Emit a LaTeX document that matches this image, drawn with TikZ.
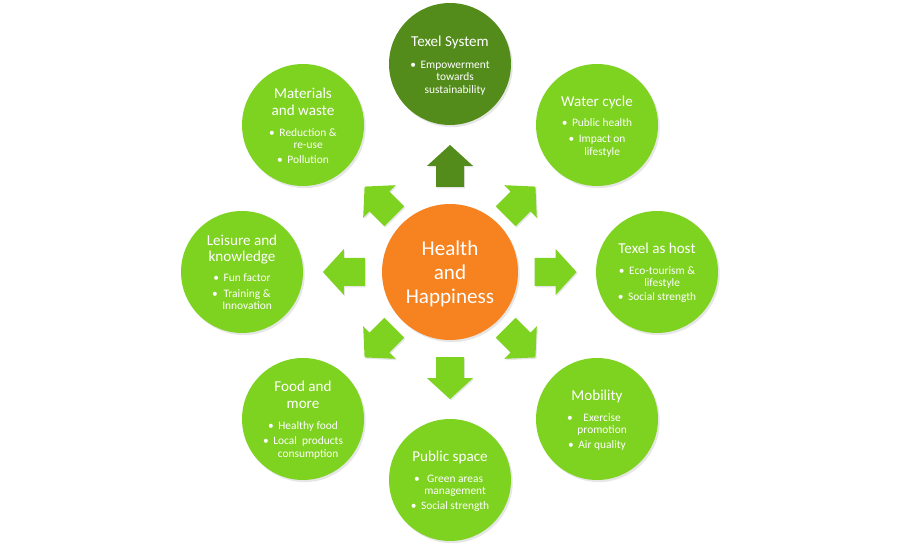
\documentclass[tikz,border=0pt]{standalone}
\usepackage{fontspec}
\setmainfont{Carlito}
\usetikzlibrary{shadows,calc}
\definecolor{lgreen}{RGB}{126,210,32}
\definecolor{dgreen}{RGB}{84,140,28}
\definecolor{hhorange}{RGB}{246,130,32}
\newcommand\ctab[1]{\begin{tabular}{@{}c@{}}#1\end{tabular}}
\newcommand\bitem[1]{\begin{tabular}{@{}l@{\hspace{2.6pt}}c@{}}\textbullet&#1\end{tabular}}
\tikzset{
  barrow/.pic={\fill[#1,drop shadow={opacity=0.2,shadow xshift=0.6pt,shadow yshift=-0.8pt}]
    (-21,-14) -- (0,-14) -- (0,-23) -- (21,0) -- (0,23) -- (0,14) -- (-21,14) -- cycle;}
}
\begin{document}
\begin{tikzpicture}[x=0.02cm,y=-0.02cm,
  bub/.style={circle,minimum size=2.44cm,inner sep=0pt,fill=lgreen,
    drop shadow={opacity=0.2,shadow xshift=1pt,shadow yshift=-1.2pt}},
  ttl/.style={text=white,inner sep=0pt,yshift=-0.035cm,font=\fontsize{8.6}{9.6}\selectfont},
  itm/.style={text=white,inner sep=0pt,yshift=-0.035cm,font=\fontsize{6.5}{7.1}\selectfont},
  ctr/.style={text=white,inner sep=0pt,yshift=-0.06cm,font=\fontsize{12}{13.6}\selectfont}]
\useasboundingbox (0,0) rectangle (900,560);
% circles
\node[bub,fill=hhorange,minimum size=2.72cm] (hh) at (450,272) {};
\node[bub,fill=dgreen] (ts) at (450,64) {};
\node[bub] (wc) at (597,125) {};
\node[bub] (th) at (657,272) {};
\node[bub] (mo) at (597,419) {};
\node[bub] (ps) at (450,480) {};
\node[bub] (fm) at (303,419) {};
\node[bub] (lk) at (242,272) {};
\node[bub] (mw) at (303,125) {};
% arrows
\pic[rotate=90]   (aTS) at ($(hh)!0.51!(ts)$) {barrow=dgreen};
\pic[rotate=45]   (aWC) at ($(hh)!0.48!(wc)$) {barrow=lgreen};
\pic[rotate=0]    (aTH) at ($(hh)!0.51!(th)$) {barrow=lgreen};
\pic[rotate=-45]  (aMO) at ($(hh)!0.48!(mo)$) {barrow=lgreen};
\pic[rotate=-90]  (aPS) at ($(hh)!0.51!(ps)$) {barrow=lgreen};
\pic[rotate=-135] (aFM) at ($(hh)!0.48!(fm)$) {barrow=lgreen};
\pic[rotate=180]  (aLK) at ($(hh)!0.51!(lk)$) {barrow=lgreen};
\pic[rotate=135]  (aMW) at ($(hh)!0.48!(mw)$) {barrow=lgreen};
% centre text
\node[ctr] (hht) at (450,272) {\ctab{Health\\and\\Happiness}};
% Texel System
\node[ttl] (tst) at (450,41.7) {\ctab{Texel System}};
\node[itm] (tsa) at (450,76.3) {\bitem{Empowerment\\&towards\\&sustainability}};
% Water cycle
\node[ttl] (wct) at (597,101.7) {\ctab{Water cycle}};
\node[itm] (wca) at (597,122.7) {\bitem{Public health}};
\node[itm] (wcb) at (597,144.8) {\bitem{Impact on\\&lifestyle}};
% Texel as host
\node[ttl] (tht) at (657,248.3) {\ctab{Texel as host}};
\node[itm] (tha) at (657,276.2) {\bitem{Eco-tourism \&\\&lifestyle}};
\node[itm] (thb) at (657,296.7) {\bitem{Social strength}};
% Mobility
\node[ttl] (mot) at (597,395.7) {\ctab{Mobility}};
\node[itm] (moa) at (597,423.2) {\bitem{Exercise\\&promotion}};
\node[itm] (mob) at (597,444.3) {\bitem{Air quality}};
% Public space
\node[ttl] (pst) at (450,456.7) {\ctab{Public space}};
\node[itm] (psa) at (450,484.2) {\bitem{Green areas\\&management}};
\node[itm] (psb) at (450,505) {\bitem{Social strength}};
% Food and more
\node[ttl] (fmt) at (303,394.9) {\ctab{Food and\\more}};
\node[itm] (fma) at (303,425) {\bitem{Healthy food}};
\node[itm] (fmb) at (303,446.7) {\bitem{Local\hspace{0.45em}products\\&consumption}};
% Leisure and knowledge
\node[ttl] (lkt) at (242,248.4) {\ctab{Leisure and\\knowledge}};
\node[itm] (lka) at (242,277.7) {\bitem{Fun factor}};
\node[itm] (lkb) at (242,299.5) {\bitem{Training \&\\&Innovation}};
% Materials and waste
\node[ttl] (mwt) at (303,101.7) {\ctab{Materials\\and waste}};
\node[itm] (mwa) at (303,138.4) {\bitem{Reduction \&\\&re-use}};
\node[itm] (mwb) at (303,159.3) {\bitem{Pollution}};
\end{tikzpicture}
\end{document}
